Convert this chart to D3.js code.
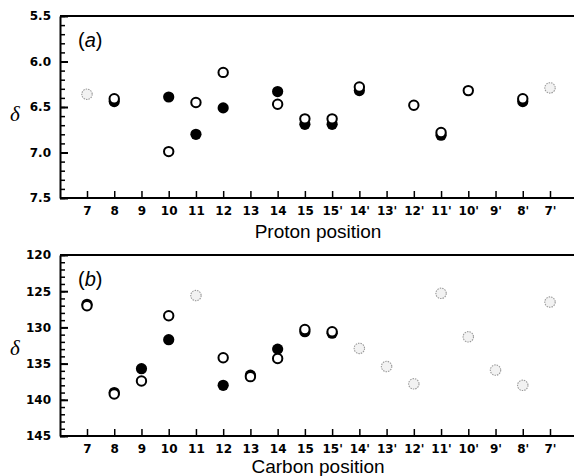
<!DOCTYPE html>
<html lang="en">
<head>
<meta charset="utf-8">
<script src="https://d3js.org/d3.v7.min.js"></script>
<style>
  body { margin: 0; background: white; }
  svg { display: block; }
  .tick text { font-family: "DejaVu Sans", sans-serif; font-weight: bold; font-size: 12px; }
</style>
</head>
<body>
<svg id="chart" width="574" height="476"></svg>
<script>
// positions along the chain
var positions = ["7", "8", "9", "10", "11", "12", "13", "14", "15", "15'", "14'", "13'", "12'", "11'", "10'", "9'", "8'", "7'"];

// (a) proton shifts, null = not shown
var protonFilled = [null, 6.44, null, 6.39, 6.80, 6.51, null, 6.33, 6.69, 6.69, 6.32, null, null, 6.81, null, null, 6.44, null];
var protonOpen   = [null, 6.41, null, 6.99, 6.45, 6.12, null, 6.47, 6.63, 6.63, 6.28, null, 6.48, 6.78, 6.32, null, 6.41, null];
var protonGray   = [6.36, null, null, null, null, null, null, null, null, null, null, null, null, null, null, null, null, 6.29];
var protonTicks = [5.5, 6.0, 6.5, 7.0, 7.5];

// (b) carbon shifts
var carbonFilled = [126.8, 139.0, 135.7, 131.7, null, 138.0, 136.6, 133.0, 130.6, 130.8, null, null, null, null, null, null, null, null];
var carbonOpen   = [127.0, 139.2, 137.4, 128.4, null, 134.2, 136.8, 134.3, 130.3, 130.6, null, null, null, null, null, null, null, null];
var carbonGray   = [null, null, null, null, 125.6, null, null, null, null, null, 132.9, 135.4, 137.8, 125.3, 131.3, 135.9, 138.0, 126.5];
var carbonTicks = [120, 125, 130, 135, 140, 145];

var svg = d3.select("#chart");
var left = 60, right = 574;

var x = d3.scalePoint().domain(positions).range([87, 550]);

function panel(cfg) {
    var g = svg.append("g");
    var y = d3.scaleLinear().domain(cfg.domain).range([cfg.top, cfg.bottom]);

    // minor ticks
    g.append("g")
        .attr("transform", "translate(" + left + ",0)")
        .call(d3.axisLeft(y).tickValues(d3.range(cfg.domain[0], cfg.domain[1] + cfg.minor / 2, cfg.minor)).tickSize(-5).tickFormat(""))
        .call(a => a.select(".domain").remove())
        .selectAll("line").attr("stroke-width", 1.5);

    // major ticks
    var ya = g.append("g")
        .attr("transform", "translate(" + left + ",0)")
        .call(d3.axisLeft(y).tickValues(cfg.ticks).tickSizeInner(-8).tickSizeOuter(0).tickPadding(9).tickFormat(cfg.fmt));
    ya.select(".domain").attr("stroke-width", 2);
    ya.selectAll("line").attr("stroke-width", 2);

    // top frame line
    g.append("line")
        .attr("x1", left).attr("x2", right)
        .attr("y1", cfg.top).attr("y2", cfg.top)
        .attr("stroke", "black").attr("stroke-width", 2);

    // bottom axis
    var xa = g.append("g")
        .attr("transform", "translate(0," + cfg.bottom + ")")
        .call(d3.axisBottom(x).tickSizeInner(-7).tickSizeOuter(0).tickPadding(8));
    xa.select(".domain").attr("d", "M" + left + ",0H" + right).attr("stroke-width", 2);
    xa.selectAll("line").attr("stroke-width", 1.5);

    // delta label
    g.append("text")
        .attr("x", 15).attr("y", cfg.deltaY)
        .attr("text-anchor", "middle")
        .style("font-family", "'Liberation Serif', serif")
        .style("font-style", "italic")
        .style("font-size", "21px")
        .text("δ");

    // panel letter
    var t = g.append("text")
        .attr("x", 78).attr("y", cfg.top + 31)
        .style("font-family", "'Liberation Sans', Arial, sans-serif")
        .style("font-size", "20px");
    t.append("tspan").text("(");
    t.append("tspan").style("font-style", "italic").text(cfg.letter);
    t.append("tspan").text(")");

    // x title
    g.append("text")
        .attr("x", 318).attr("y", cfg.bottom + cfg.titleDy)
        .attr("text-anchor", "middle")
        .style("font-family", "'Liberation Sans', Arial, sans-serif")
        .style("font-size", "19px")
        .text(cfg.title);

    function pts(vals) {
        return positions.map((p, i) => ({ p: p, v: vals[i] })).filter(d => d.v !== null);
    }

    g.selectAll(".gray").data(pts(cfg.gray)).enter().append("circle")
        .attr("cx", d => x(d.p)).attr("cy", d => y(d.v)).attr("r", 5.2)
        .attr("fill", "#f2f2f2").attr("stroke", "#999")
        .attr("stroke-width", 1.1).attr("stroke-dasharray", "1.5,1");

    g.selectAll(".filled").data(pts(cfg.filled)).enter().append("circle")
        .attr("cx", d => x(d.p)).attr("cy", d => y(d.v)).attr("r", 5.6)
        .attr("fill", "black");

    g.selectAll(".open").data(pts(cfg.open)).enter().append("circle")
        .attr("cx", d => x(d.p)).attr("cy", d => y(d.v)).attr("r", 4.7)
        .attr("fill", "white").attr("stroke", "black").attr("stroke-width", 2);
}

panel({
    top: 16, bottom: 198, domain: [5.5, 7.5], minor: 0.1, ticks: protonTicks,
    fmt: d3.format(".1f"), letter: "a", title: "Proton position", titleDy: 40, deltaY: 121,
    filled: protonFilled, open: protonOpen, gray: protonGray
});

panel({
    top: 255, bottom: 436, domain: [120, 145], minor: 1, ticks: carbonTicks,
    fmt: d3.format("d"), letter: "b", title: "Carbon position", titleDy: 37, deltaY: 355,
    filled: carbonFilled, open: carbonOpen, gray: carbonGray
});
</script>
</body>
</html>
